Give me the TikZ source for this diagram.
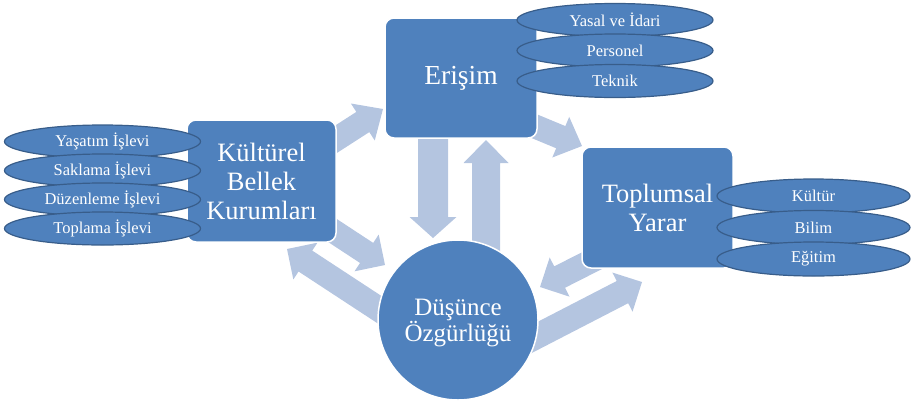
\documentclass[tikz,border=0pt]{standalone}
\usepackage{fontspec}
\setmainfont{Liberation Serif}
\usetikzlibrary{calc,shapes.geometric}
\pgfdeclarelayer{background}
\pgfsetlayers{background,main}
\definecolor{boxblue}{RGB}{79,129,189}
\definecolor{ellborder}{RGB}{56,93,138}
\definecolor{arrowcol}{RGB}{180,197,224}
% tail, tip, half shaft width, half head width, head length
\newcommand{\blockarr}[5]{%
  \coordinate (ba-n) at ($(#2)!#5!(#1)$);
  \fill[arrowcol] ($(#1)!#3!90:(#2)$) -- ($(ba-n)!#3!90:(#2)$) -- ($(ba-n)!#4!90:(#2)$) -- (#2)
    -- ($(ba-n)!#4!-90:(#2)$) -- ($(ba-n)!#3!-90:(#2)$) -- ($(#1)!#3!-90:(#2)$) -- cycle;}
\tikzset{
  bluebox/.style={rectangle, rounded corners=9pt, fill=boxblue, draw=white, line width=1.5pt,
    text=white, align=center, inner sep=0pt},
  bluecirc/.style={circle, fill=boxblue, draw=white, line width=1.5pt,
    inner sep=0pt, minimum size=160pt},
  circtext/.style={text=white, align=center, inner sep=0pt, font=\fontsize{25}{26}\selectfont},
  oval/.style={ellipse, fill=boxblue, draw=ellborder, line width=1.2pt, text=white,
    inner sep=0pt, minimum width=196pt, minimum height=33pt, font=\fontsize{16.5}{18}\selectfont}
}
\begin{document}
\begin{tikzpicture}[x=1pt,y=-1pt]
\useasboundingbox (0,0) rectangle (912,400);
% main nodes
\node[bluebox, minimum width=149pt, minimum height=122pt, font=\fontsize{26.5}{29}\selectfont]
  (kb) at (261.5,181) {Kültürel\\Bellek\\Kurumları};
\node[bluebox, minimum width=152pt, minimum height=120pt, font=\fontsize{27.5}{30}\selectfont]
  (er) at (461,78) {Erişim};
\node[bluebox, minimum width=151pt, minimum height=121pt, font=\fontsize{26.5}{29}\selectfont]
  (ty) at (657.5,207.5) {Toplumsal\\Yarar};
\node[bluecirc] (dz) at (458,320) {};
\node[circtext] (dzt) at (458,323) {Düşünce\\Özgürlüğü};
% ovals
\node[oval] (o1) at (102.5,141.5) {Yaşatım İşlevi};
\node[oval] (o2) at (102.5,170.5) {Saklama İşlevi};
\node[oval] (o3) at (102.5,199.5) {Düzenleme\ İşlevi};
\node[oval] (o4) at (102.5,228.5) {Toplama İşlevi};
\node[oval] (o5) at (615,20) {Yasal\ ve İdari};
\node[oval] (o6) at (615,50.5) {Personel};
\node[oval] (o7) at (615,81) {Teknik};
\node[oval, minimum width=193pt, minimum height=34pt] (o8) at (813.5,196) {Kültür};
\node[oval, minimum width=193pt, minimum height=34pt] (o9) at (813.5,227.5) {Bilim};
\node[oval, minimum width=193pt, minimum height=34pt] (o10) at (813.5,259) {Eğitim};
% arrow end points
\coordinate (a1t) at (324,147);  \coordinate (a1h) at (383,109);
\coordinate (a2t) at (517,119);  \coordinate (a2h) at (582,146);
\coordinate (a3t) at (433,120);  \coordinate (a3h) at (433,238);
\coordinate (a4t) at (486,260);  \coordinate (a4h) at (486,140);
\coordinate (a5t) at (318,221);  \coordinate (a5h) at (385,265);
\coordinate (a6t) at (391.5,317.5); \coordinate (a6h) at (287,249);
\coordinate (a7t) at (611,251);  \coordinate (a7h) at (540,287);
\coordinate (a8t) at (520,345);  \coordinate (a8h) at (642,282);
\begin{pgfonlayer}{background}
\blockarr{a1t}{a1h}{12pt}{22pt}{24pt}
\blockarr{a2t}{a2h}{12pt}{22pt}{23pt}
\blockarr{a3t}{a3h}{15pt}{23.5pt}{21pt}
\blockarr{a4t}{a4h}{14pt}{22.5pt}{23pt}
\blockarr{a5t}{a5h}{12pt}{22pt}{22pt}
\blockarr{a6t}{a6h}{12.5pt}{22pt}{22pt}
\blockarr{a7t}{a7h}{12pt}{22pt}{22pt}
\blockarr{a8t}{a8h}{12.5pt}{22pt}{22pt}
\end{pgfonlayer}
\end{tikzpicture}
\end{document}
